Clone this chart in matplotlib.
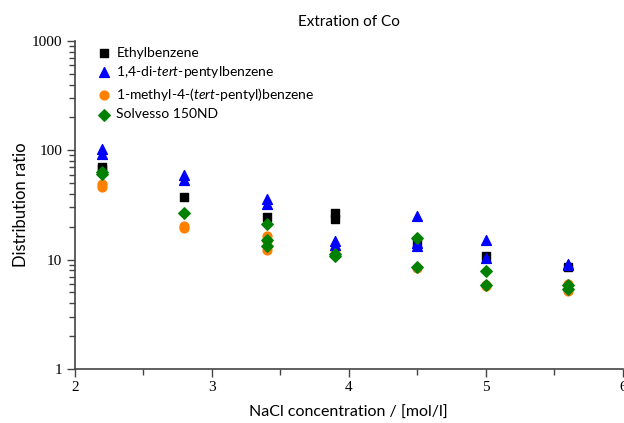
import numpy as np
import matplotlib
matplotlib.use('Agg')
import matplotlib.pyplot as plt
from matplotlib.ticker import LogLocator, FixedLocator, NullFormatter

plt.rcParams['font.family'] = 'Lato'
plt.rcParams['mathtext.fontset'] = 'custom'
plt.rcParams['mathtext.rm'] = 'Lato'
plt.rcParams['mathtext.it'] = 'Lato:italic'

# NaCl concentration (replicate measurements share an x value)
eth_x = [2.2, 2.2, 2.8, 3.4, 3.9, 3.9, 4.5, 5.0, 5.6]
eth_y = [70, 68, 37.5, 24.5, 26.8, 23.6, 14.2, 10.8, 8.6]

dtp_x = [2.2, 2.2, 2.8, 2.8, 3.4, 3.4, 3.9, 3.9, 4.5, 4.5, 4.5, 5.0, 5.0, 5.6, 5.6]
dtp_y = [102, 93, 59, 54, 36, 32.5, 14.8, 13.6, 25.1, 14.2, 13.3, 15.0, 10.3, 9.2, 8.9]

mtp_x = [2.2, 2.2, 2.8, 2.8, 3.4, 3.4, 3.4, 3.9, 4.5, 5.0, 5.0, 5.6, 5.6]
mtp_y = [49, 46.5, 20.3, 19.5, 16.3, 14.8, 12.2, 12.3, 8.3, 5.9, 5.7, 6.0, 5.2]

sol_x = [2.2, 2.2, 2.8, 3.4, 3.4, 3.4, 3.9, 3.9, 4.5, 4.5, 5.0, 5.0, 5.6, 5.6]
sol_y = [63, 61, 26.7, 21.0, 15.1, 13.4, 11.3, 10.7, 15.9, 8.6, 7.9, 5.8, 5.9, 5.4]

fig = plt.figure(figsize=(6.24, 4.23), dpi=100)
ax = fig.add_axes([0.12, 0.128, 0.878, 0.775])

ax.scatter(eth_x, eth_y, marker='s', s=36, color='black', label='Ethylbenzene', zorder=3)
ax.scatter(dtp_x, dtp_y, marker='^', s=50, color='#0000ff',
           label='1,4-di-$\\it{tert}$-pentylbenzene', zorder=3)
ax.scatter(mtp_x, mtp_y, marker='o', s=40, color='#ff8000',
           label='1-methyl-4-($\\it{tert}$-pentyl)benzene', zorder=2)
ax.scatter(sol_x, sol_y, marker='D', s=34, color='#008000', label='Solvesso 150ND', zorder=3)

ax.set_yscale('log')
ax.set_xlim(2, 6)
ax.set_ylim(1, 1000)
ax.xaxis.set_major_locator(FixedLocator([2, 3, 4, 5, 6]))
ax.xaxis.set_minor_locator(FixedLocator([2.5, 3.5, 4.5, 5.5]))
ax.yaxis.set_minor_locator(LogLocator(base=10, subs=np.arange(2, 10)))
ax.yaxis.set_minor_formatter(NullFormatter())
ax.set_yticks([1, 10, 100, 1000])
ax.set_yticklabels(['1', '10', '100', '1000'])

for lab in ax.get_xticklabels() + ax.get_yticklabels():
    lab.set_fontfamily('Liberation Serif')
    lab.set_fontsize(11)

ax.tick_params(which='major', direction='out', length=6, width=1, color='#444444', pad=3)
ax.tick_params(which='minor', direction='out', length=4, width=1, color='#444444')
for side in ['top', 'right']:
    ax.spines[side].set_visible(False)
for side in ['left', 'bottom']:
    ax.spines[side].set_linewidth(1.2)
    ax.spines[side].set_color('#444444')

ax.set_title('Extration of Co', fontsize=11, pad=11)
ax.set_xlabel('NaCl concentration / [mol/l]', fontsize=11.5, labelpad=8)
ax.set_ylabel('Distribution ratio', fontsize=12)
ax.yaxis.set_label_coords(-0.084, 0.5)

ax.legend(loc='upper left', frameon=False, fontsize=10, handlelength=1.0,
          handletextpad=0.4, labelspacing=0.4, borderaxespad=0.0,
          bbox_to_anchor=(0.03, 1.0))

fig.savefig('out.png', dpi=100)
